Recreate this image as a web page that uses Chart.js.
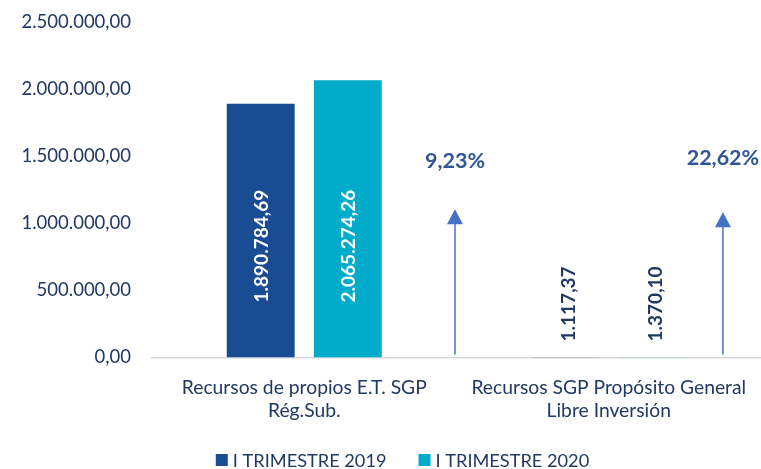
<!DOCTYPE html>
<html><head><meta charset="utf-8">
<script src="https://cdn.jsdelivr.net/npm/chart.js@4"></script>
<style>html,body{margin:0;padding:0;background:#fff}#wrap{width:761px;height:469px}</style>
</head><body><div id="wrap"><canvas id="c" width="761" height="469"></canvas></div>
<script>
const categories = [["Recursos de propios E.T. SGP","Rég.Sub."],["Recursos SGP Propósito General","Libre Inversión"]];
const seriesNames = ["I TRIMESTRE 2019","I TRIMESTRE 2020"];
const values2019 = [1890784.69, 1117.37];
const values2020 = [2065274.26, 1370.10];
const growthLabels = ["9,23%","22,62%"];
const arrowX = [0.495, 1.375];        // category-axis position of each growth arrow
const arrowTop = [1105000, 1083000];
const growthTextY = [1466000, 1489000];
const yTicks = [0,500000,1000000,1500000,2000000,2500000];
const colors = ['#1a4c94','#00acc9'];

const FONT = "Lato, 'Open Sans', sans-serif";
function fmt(v){
  const s = Math.abs(v).toFixed(2).split('.');
  return s[0].replace(/\B(?=(\d{3})+(?!\d))/g,'.') + ',' + s[1];
}
const labelPlugin = {
  id:'labels',
  afterDatasetsDraw(chart){
    const ctx = chart.ctx;
    const y = chart.scales.y, x = chart.scales.x;
    chart.data.datasets.forEach((ds,di)=>{
      const meta = chart.getDatasetMeta(di);
      meta.data.forEach((bar,i)=>{
        const txt = fmt(ds.data[i]);
        ctx.save();
        ctx.font = "bold 19px " + FONT;
        const big = (bar.base - bar.y) > 150;
        ctx.translate(big ? bar.x : bar.x + 3, bar.base - (big ? 55 : 16));
        ctx.rotate(-Math.PI/2);
        ctx.fillStyle = big ? '#ffffff' : '#203864';
        ctx.textAlign = 'left';
        ctx.textBaseline = 'middle';
        ctx.fillText(txt, 0, 1);
        ctx.restore();
      });
    });
    growthLabels.forEach((g,i)=>{
      const px = x.getPixelForValue(arrowX[i]);
      const pb = y.getPixelForValue(0) - 3;
      const pt = y.getPixelForValue(arrowTop[i]);
      ctx.save();
      ctx.strokeStyle = '#4472c4'; ctx.fillStyle = '#4472c4'; ctx.lineWidth = 1.5;
      ctx.beginPath(); ctx.moveTo(px,pb); ctx.lineTo(px,pt+12); ctx.stroke();
      ctx.beginPath(); ctx.moveTo(px,pt); ctx.lineTo(px-8,pt+15); ctx.lineTo(px+8,pt+15); ctx.closePath(); ctx.fill();
      ctx.font = "bold 21.5px " + FONT;
      ctx.fillStyle = '#2f5597';
      ctx.textAlign='center'; ctx.textBaseline='middle';
      ctx.fillText(g, px, y.getPixelForValue(growthTextY[i]));
      ctx.restore();
    });
  },
  afterDraw(chart){
    const ctx = chart.ctx;
    ctx.save();
    ctx.font = "18.2px " + FONT;
    ctx.textBaseline = 'middle';
    const box = 12, gap = 5, spacing = 32;
    const widths = seriesNames.map(n=>box+gap+ctx.measureText(n).width);
    const total = widths.reduce((a,b)=>a+b,0) + spacing*(widths.length-1);
    let px = chart.width/2 + 22 - total/2;
    const cy = 460;
    seriesNames.forEach((n,i)=>{
      ctx.fillStyle = colors[i];
      ctx.fillRect(px, cy-6, box, box);
      ctx.fillStyle = '#203864';
      ctx.fillText(n, px+box+gap, cy+1);
      px += widths[i] + spacing;
    });
    ctx.restore();
  }
};
new Chart(document.getElementById('c'),{
  type:'bar',
  data:{labels:categories,datasets:[
    {label:seriesNames[0],data:values2019,backgroundColor:colors[0],categoryPercentage:0.572,barPercentage:0.78},
    {label:seriesNames[1],data:values2020,backgroundColor:colors[1],categoryPercentage:0.572,barPercentage:0.78}
  ]},
  options:{
    responsive:false,animation:false,
    layout:{padding:{top:22,right:0,left:18,bottom:28}},
    plugins:{legend:{display:false},tooltip:{enabled:false}},
    scales:{
      x:{grid:{display:false,drawTicks:false},border:{color:'#d9d9d9',width:1.5},
         afterFit(s){s.paddingLeft=0; s.paddingRight=0;},
         ticks:{color:'#203864',padding:19,font:{family:FONT,size:19.3,lineHeight:1.18},maxRotation:0}},
      y:{min:0,max:2500000,afterBuildTicks(s){s.ticks=yTicks.map(v=>({value:v}));},
         afterFit(s){s.width=134; s.paddingTop=0;},
         grid:{display:false,drawTicks:false},border:{display:false},
         ticks:{color:'#203864',padding:21,font:{family:FONT,size:18.5},callback:v=>fmt(v)}}
    }
  },
  plugins:[labelPlugin]
});
</script></body></html>
